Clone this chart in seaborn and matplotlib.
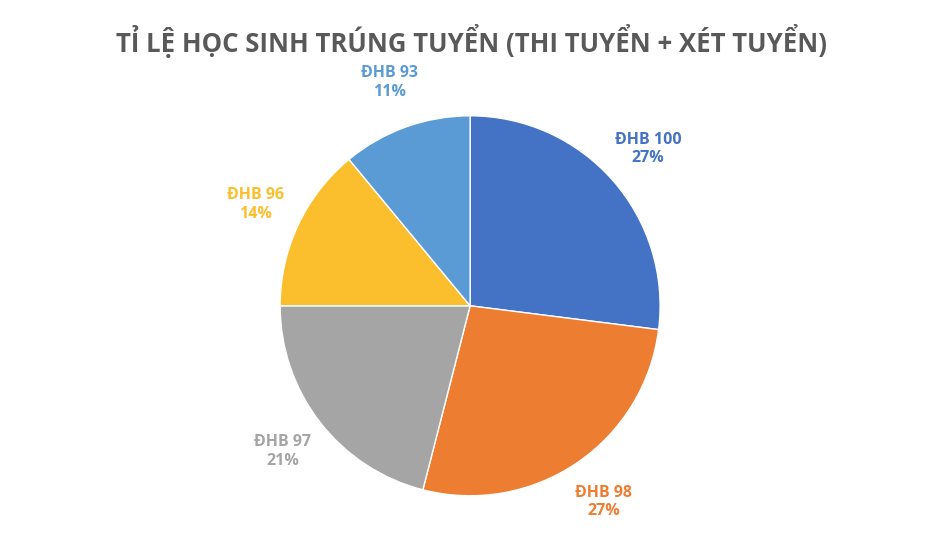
import matplotlib
matplotlib.use("Agg")
import matplotlib.pyplot as plt
import seaborn as sns

categories = ["ĐHB 100", "ĐHB 98", "ĐHB 97", "ĐHB 96", "ĐHB 93"]
values = [27, 27, 21, 14, 11]
colors = ["#4472C4", "#ED7D31", "#A5A5A5", "#FBBF2D", "#5B9BD5"]

sns.set_theme(style="white")
plt.rcParams['font.family'] = ['Open Sans', 'DejaVu Sans']

fig = plt.figure(figsize=(9.44, 5.48), dpi=100)
ax = fig.add_axes([0.498 - 0.2013, 0.442 - 0.3467, 0.4026, 0.6934])
labels = [f"{c}\n{v}%" for c, v in zip(categories, values)]
wedges, texts = ax.pie(values, labels=labels, colors=colors, startangle=90,
                       counterclock=False, labeldistance=1.25,
                       wedgeprops=dict(edgecolor="white", linewidth=1),
                       textprops=dict(fontsize=11.5, fontweight="bold", ha="center"))
for t, c in zip(texts, colors):
    t.set_color(c)
    t.set_horizontalalignment("center")
    t.set_clip_on(False)
ax.set_xlim(-1, 1)
ax.set_ylim(-1, 1)
ax.set_aspect("equal")
fig.text(0.5, 0.925, "TỈ LỆ HỌC SINH TRÚNG TUYỂN (THI TUYỂN + XÉT TUYỂN)",
         ha="center", va="center", fontsize=18.5, fontweight="bold", color="#595959")
fig.savefig("out.png", dpi=100, facecolor="white")
